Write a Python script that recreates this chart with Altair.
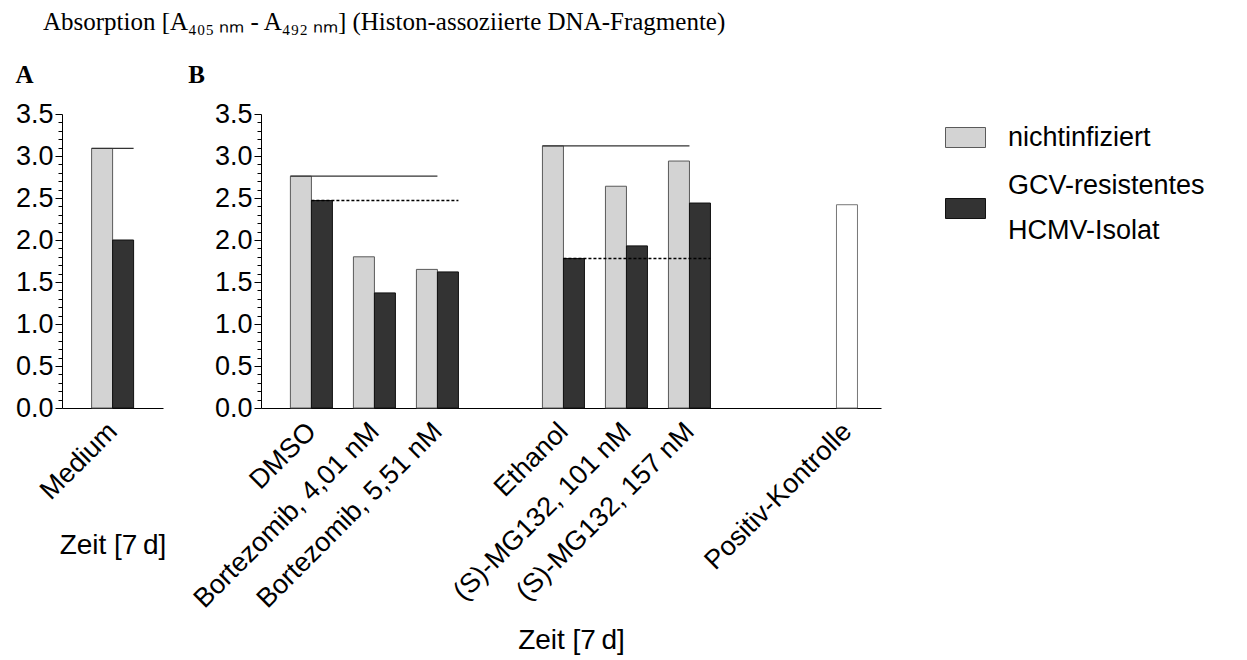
import altair as alt
import pandas as pd

# --- values -----------------------------------------------------------
SERIES = ["nichtinfiziert", "GCV-resistentes HCMV-Isolat"]

groups_a = ["Medium"]
uninf_a = [3.09]
gcv_a = [2.00]

groups_b = ["DMSO", "Bortezomib, 4,01 nM", "Bortezomib, 5,51 nM",
            "Ethanol", "(S)-MG132, 101 nM", "(S)-MG132, 157 nM"]
uninf_b = [2.76, 1.80, 1.65, 3.12, 2.64, 2.94]
gcv_b = [2.47, 1.37, 1.62, 1.78, 1.93, 2.44]

positive_group = ["Positiv-Kontrolle"]
positive_value = [2.42]

# control group -> last treated group of the same block
blocks_b = [("DMSO", "Bortezomib, 5,51 nM"), ("Ethanol", "(S)-MG132, 157 nM")]

y_ticks = [round(i * 0.1, 1) for i in range(36)]

TITLE = "Absorption [A\u2084\u2080\u2085\u2009\u2099\u2098 - A\u2084\u2089\u2082\u2009\u2099\u2098] (Histon-assoziierte DNA-Fragmente)"
X_TITLE = "Zeit [7\u2009d]"

FILL = ["#d3d3d3", "#333333"]
EDGE = ["#5a5a5a", "#111111"]
SANS = "Liberation Sans"
SERIF = "Liberation Serif"


# --- layout: one unit = one bar width; pairs are followed by a one-bar gap,
# blocks of three pairs are separated by an empty pair slot
def pair_starts(groups, block=3):
    pos, x = {}, 0
    for i, g in enumerate(groups):
        if i and i % block == 0:
            x += 3
        pos[g] = x
        x += 3
    return pos


start_a = pair_starts(groups_a)
start_b = pair_starts(groups_b)
start_pos = start_b[groups_b[-1]] + 8


def bar_rows(groups, starts, uninf, gcv):
    rows = []
    for g, u, d in zip(groups, uninf, gcv):
        for k, (s, v) in enumerate(zip(SERIES, (u, d))):
            rows.append({"group": g, "series": s, "value": v,
                         "x0": starts[g] + k, "x1": starts[g] + k + 1})
    return pd.DataFrame(rows)


bars_a_df = bar_rows(groups_a, start_a, uninf_a, gcv_a)
bars_b_df = bar_rows(groups_b, start_b, uninf_b, gcv_b)
pos_df = pd.DataFrame({"group": positive_group, "series": ["pos"],
                       "value": positive_value,
                       "x0": [start_pos], "x1": [start_pos + 1]})


def lookup(df, g, s):
    return df[(df.group == g) & (df.series == s)].iloc[0]


# reference lines at the control values
lines_a = pd.DataFrame([{
    "series": SERIES[0],
    "value": lookup(bars_a_df, "Medium", SERIES[0]).value,
    "x0": lookup(bars_a_df, "Medium", SERIES[0]).x0,
    "x1": lookup(bars_a_df, "Medium", SERIES[1]).x1,
}])
rows = []
for ctrl, last in blocks_b:
    for s in SERIES:
        rows.append({"series": s,
                     "value": lookup(bars_b_df, ctrl, s).value,
                     "x0": lookup(bars_b_df, ctrl, s).x0,
                     "x1": lookup(bars_b_df, last, s).x1})
lines_b = pd.DataFrame(rows)

# --- axes ---------------------------------------------------------------
is_major = "abs(datum.value * 2 - round(datum.value * 2)) < 0.001"
y_axis = alt.Axis(
    values=y_ticks, title=None, grid=False,
    labelExpr=f"{is_major} ? format(datum.value, '.1f') : ''",
    labelOverlap=False, labelFlush=False, labelPadding=2,
    labelFont=SANS, labelFontSize=27, labelColor="black",
    tickSize={"condition": {"test": is_major, "value": 7}, "value": 4},
    tickColor="black", domainColor="black", tickWidth=1, domainWidth=1,
)
y_enc = alt.Y("value:Q", scale=alt.Scale(domain=[0, 3.5], nice=False, zero=True, padding=0),
              axis=y_axis)
y2_enc = alt.datum(0)


def x_axis(label_pos, title_padding):
    expr = " : ".join(f"datum.value == {p} ? '{t}'" for p, t in label_pos) + " : ''"
    return alt.Axis(
        values=[p for p, _ in label_pos], labelExpr=expr, title=X_TITLE,
        grid=False, ticks=False, labelAngle=-45, labelAlign="right",
        labelBaseline="middle", labelPadding=19, labelOverlap=False,
        labelFlush=False, labelFont=SANS, labelFontSize=27, labelColor="black",
        labelLimit=400, domainColor="black", domainWidth=1,
        titleFont=SANS, titleFontSize=28, titleFontWeight="normal",
        titleColor="black", titlePadding=title_padding,
    )


labels_a = [(start_a[g] + 1, g) for g in groups_a]
labels_b = [(start_b[g] + 1, g) for g in groups_b] + [(start_pos + 0.5, positive_group[0])]

xa = alt.X("x0:Q", scale=alt.Scale(domain=[-1.41, 3.4], nice=False, zero=False, padding=0),
           axis=x_axis(labels_a, 27))
xb = alt.X("x0:Q", scale=alt.Scale(domain=[-1.4, 28.12], nice=False, zero=False, padding=0),
           axis=x_axis(labels_b, 18))

# two-line legend labels are centred on their swatch
legend = alt.Legend(
    title=None, orient="none", legendX=883, legendY=3, direction="vertical",
    symbolType="M-1,-0.5H1V0.5H-1Z", symbolSize=1600,
    symbolStrokeColor="#444", symbolStrokeWidth=1, symbolOpacity=1,
    labelFont=SANS, labelFontSize=27, labelColor="black", labelLimit=400,
    labelOffset=22, rowPadding=20,
    labelBaseline=alt.ExprRef(expr="indexof(datum.label, ' ') > 0 ? 'line-bottom' : 'middle'"),
    labelExpr="indexof(datum.label, ' ') > 0 ? split(datum.label, ' ') : datum.label",
)
fill_enc = alt.Fill("series:N", scale=alt.Scale(domain=SERIES, range=FILL), legend=legend)
stroke_enc = alt.Stroke("series:N", scale=alt.Scale(domain=SERIES, range=EDGE), legend=None)


def panel(x_enc, bars_df, lines_df, letter, extra=None):
    bars = alt.Chart(bars_df).mark_bar(strokeWidth=1).encode(
        x=x_enc, x2="x1:Q", y=y_enc, y2=y2_enc, fill=fill_enc, stroke=stroke_enc)
    solid = alt.Chart(lines_df).transform_filter(
        alt.datum.series == SERIES[0]).mark_rule(color="#333", strokeWidth=1.2).encode(
        x=x_enc, x2="x1:Q", y=y_enc)
    dotted = alt.Chart(lines_df).transform_filter(
        alt.datum.series == SERIES[1]).mark_rule(color="black", strokeWidth=1.6, strokeDash=[3, 2]).encode(
        x=x_enc, x2="x1:Q", y=y_enc)
    layers = [bars, solid, dotted] + ([extra] if extra is not None else [])
    return alt.layer(*layers).properties(
        height=294,
        title=alt.TitleParams(letter, anchor="start", frame="bounds", font=SERIF,
                              fontSize=25, fontWeight="bold", color="black", offset=12),
    )


pos_bar = alt.Chart(pos_df).mark_bar(fill="white", stroke="#777", strokeWidth=1).encode(
    x=xb, x2="x1:Q", y=y_enc, y2=y2_enc)

panel_a = panel(xa, bars_a_df, lines_a, "A").properties(width=101)
panel_b = panel(xb, bars_b_df, lines_b, "B", pos_bar).properties(width=620)

chart = alt.hconcat(panel_a, panel_b, spacing=98, bounds="flush").properties(
    title=alt.TitleParams(TITLE, anchor="start", font=SERIF, fontSize=25,
                          fontWeight="normal", color="black", dx=28, offset=28),
    padding={"left": 14, "top": 9, "right": 5, "bottom": 0},
).configure(
    view=alt.ViewConfig(stroke="transparent"),
    style={"guide-label": {"lineHeight": 45}},
)

chart.save("out.html", embed_options={"renderer": "svg", "actions": False})
